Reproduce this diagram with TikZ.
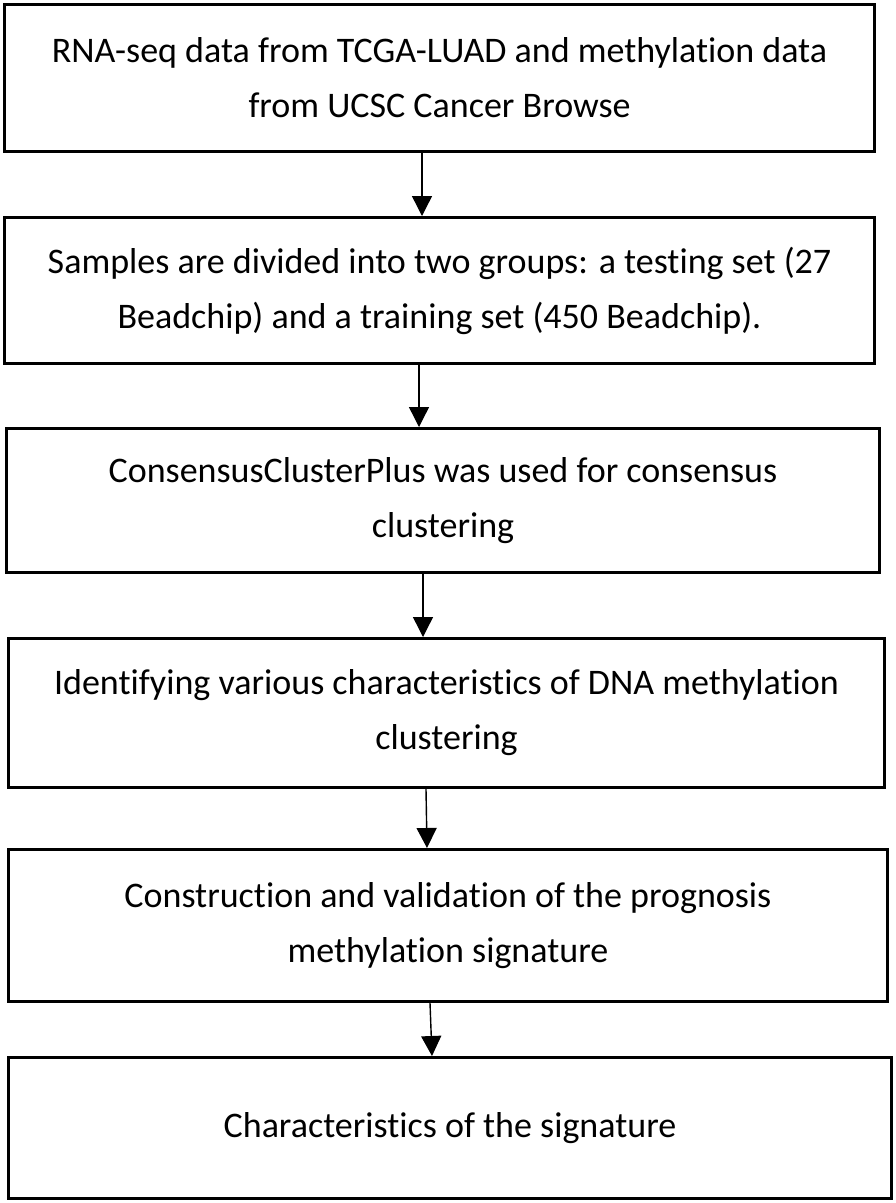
\documentclass[tikz,border=0pt]{standalone}
\usepackage{fontspec}
\setmainfont{Carlito}[Ligatures={NoCommon}]
\usetikzlibrary{arrows.meta}
\begin{document}
\begin{tikzpicture}[x=1pt,y=-1pt,
  stepbox/.style={draw=black,line width=3pt,rectangle,inner sep=0pt,align=center,
    font=\fontsize{36}{55}\selectfont},
  arr/.style={draw=black,line width=1.4pt,-{Triangle[width=20pt,length=20pt]}}]
\useasboundingbox[fill=white] (0,0) rectangle (896,1203);
\node[stepbox,minimum width=870pt,minimum height=147pt] (b1) at (439.5,78)
  {RNA-seq data from TCGA-LUAD and methylation data\\from UCSC Cancer Browse};
\node[stepbox,minimum width=870pt,minimum height=146pt] (b2) at (439.5,290.5)
  {Samples are divided into two groups: a testing set (27\\Beadchip) and a training set (450 Beadchip).};
\node[stepbox,minimum width=873pt,minimum height=144pt] (b3) at (443,500.5)
  {ConsensusClusterPlus was used for consensus\\clustering};
\node[stepbox,minimum width=876pt,minimum height=149pt] (b4) at (446.5,713)
  {Identifying various characteristics of DNA methylation\\clustering};
\node[stepbox,minimum width=879pt,minimum height=152pt] (b5) at (448,925.5)
  {Construction and validation of the prognosis\\methylation signature};
\node[stepbox,minimum width=883pt,minimum height=141pt] (b6) at (450,1128)
  {Characteristics of the signature};
\draw[arr] (b1.south -| 422,0) -- (b2.north -| 422,0);
\draw[arr] (b2.south -| 419,0) -- (b3.north -| 419,0);
\draw[arr] (b3.south -| 423,0) -- (b4.north -| 423,0);
\draw[arr] (b4.south -| 426,0) -- (b5.north -| 427,0);
\draw[arr] (b5.south -| 430,0) -- (b6.north -| 432,0);
\end{tikzpicture}
\end{document}
